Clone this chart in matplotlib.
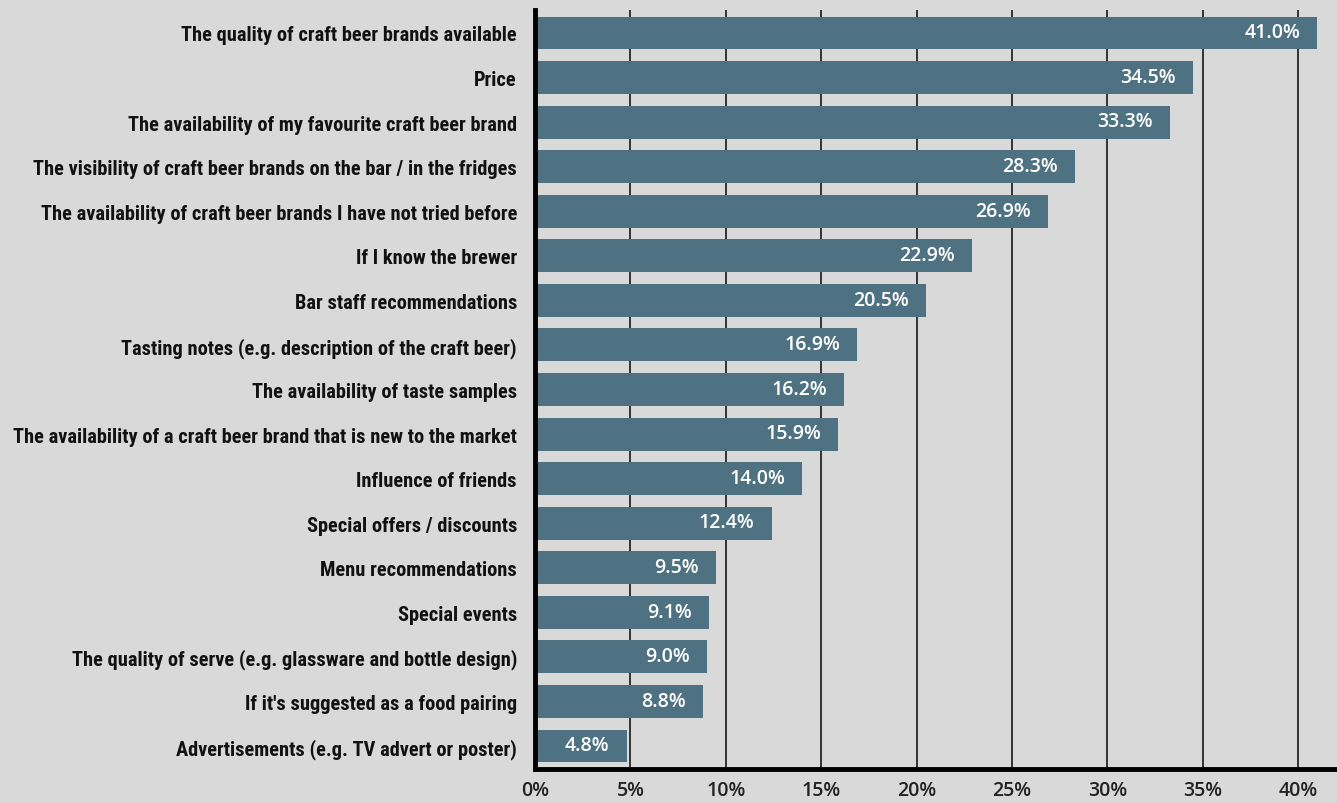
import matplotlib
matplotlib.use("Agg")
import matplotlib.pyplot as plt
from matplotlib import font_manager

categories = [
    "The quality of craft beer brands available",
    "Price",
    "The availability of my favourite craft beer brand",
    "The visibility of craft beer brands on the bar / in the fridges",
    "The availability of craft beer brands I have not tried before",
    "If I know the brewer",
    "Bar staff recommendations",
    "Tasting notes (e.g. description of the craft beer)",
    "The availability of taste samples",
    "The availability of a craft beer brand that is new to the market",
    "Influence of friends",
    "Special offers / discounts",
    "Menu recommendations",
    "Special events",
    "The quality of serve (e.g. glassware and bottle design)",
    "If it's suggested as a food pairing",
    "Advertisements (e.g. TV advert or poster)",
]
values = [41.0, 34.5, 33.3, 28.3, 26.9, 22.9, 20.5, 16.9, 16.2, 15.9,
          14.0, 12.4, 9.5, 9.1, 9.0, 8.8, 4.8]
tick_values = [0, 5, 10, 15, 20, 25, 30, 35, 40]
tick_labels = [f"{t}%" for t in tick_values]

names = {f.name for f in font_manager.fontManager.ttflist}


def pick(cands, default="DejaVu Sans"):
    for c in cands:
        if c in names:
            return c
    return default


label_font = pick(["Roboto Condensed", "Archivo Narrow", "PT Sans Narrow",
                   "Liberation Sans Narrow", "IBM Plex Sans Condensed", "Open Sans Condensed"])
num_font = pick(["Open Sans", "Noto Sans"])

bg = "#d9d9d9"
bar_color = "#4e7281"

W, H = 1337, 804
fig = plt.figure(figsize=(W / 100, H / 100), dpi=100, facecolor=bg)
ax = fig.add_axes([535 / W, 1 - 770 / H, (W - 535) / W, (770 - 11) / H])
ax.set_facecolor(bg)

y = list(range(len(categories)))
ax.barh(y, values, height=0.74, color=bar_color, zorder=3)

for yi, v in zip(y, values):
    ax.annotate(f"{v:.1f}%", xy=(v, yi), xytext=(-12.5, 0.5), textcoords="offset points",
                ha="right", va="center", color="white", fontsize=14,
                family=num_font, fontweight="semibold", zorder=4)

ax.set_xlim(0, 42.03)
ax.set_ylim(len(categories) - 0.484, -0.516)

ax.set_yticks(y)
ylabels = ax.set_yticklabels(categories, family=label_font, fontweight="bold",
                             fontsize=15, color="#111111")
ax.set_xticks(tick_values)
ax.set_xticklabels(tick_labels, family=num_font, fontweight="semibold", fontsize=14, color="#222222")
ax.tick_params(axis="y", length=0, pad=13)
ax.tick_params(axis="x", length=0, pad=8)

# fit the category labels into the space left of the axis
fig.canvas.draw()
renderer = fig.canvas.get_renderer()
widest = max(t.get_window_extent(renderer).width for t in ylabels)
target = 504
if widest > 0:
    size = 15 * target / widest
    for t in ylabels:
        t.set_fontsize(size)

ax.grid(axis="x", color="#333333", linewidth=1.4, zorder=1)
ax.grid(axis="y", visible=False)

for s in ["top", "right"]:
    ax.spines[s].set_visible(False)
for s in ["left", "bottom"]:
    ax.spines[s].set_linewidth(3.5)
    ax.spines[s].set_color("black")
    ax.spines[s].set_zorder(5)

fig.savefig("out.png", dpi=100, facecolor=bg)
